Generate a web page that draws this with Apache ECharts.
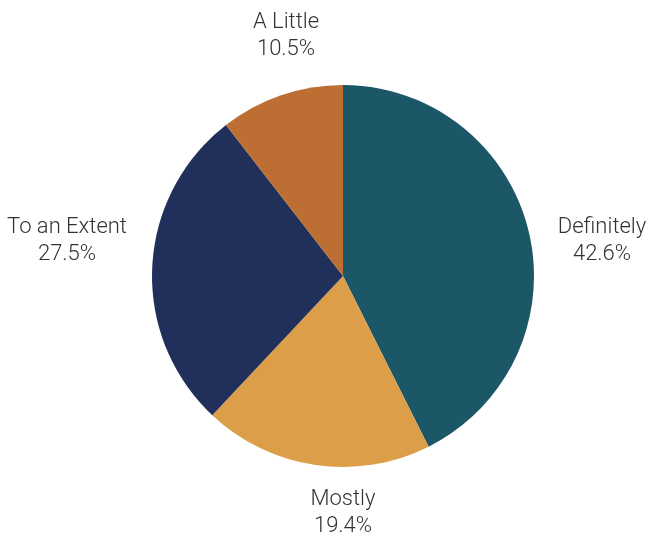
<!DOCTYPE html>
<html>
<head>
<meta charset="utf-8">
<script src="https://cdn.jsdelivr.net/npm/echarts@6/dist/echarts.min.js"></script>
<style>
  html, body { margin: 0; padding: 0; background: #ffffff; }
  #chart { width: 649px; height: 534px; }
</style>
</head>
<body>
<div id="chart"></div>
<script>
// Survey answers, in clockwise order from 12 o'clock
const categories = ['Definitely', 'Mostly', 'To an Extent', 'A Little'];
const shares = [42.6, 19.4, 27.5, 10.5];
const sliceColors = ['#1b5766', '#dc9e48', '#20305a', '#bd6f33'];

// Where each label block sits, relative to the pie centre (px)
const labelOffsets = [[259, -35], [0, 237], [-276, -35], [-57, -240]];

const CX = 343, CY = 276, R = 191;

const chart = echarts.init(document.getElementById('chart'), null, { renderer: 'canvas' });

chart.setOption({
  backgroundColor: '#ffffff',
  animation: false,
  series: [{
    type: 'pie',
    center: [CX, CY],
    radius: [0, R],
    startAngle: 90,
    clockwise: true,
    avoidLabelOverlap: false,
    itemStyle: { borderWidth: 0 },
    label: {
      show: true,
      position: 'outside',
      formatter: (p) => p.name + '\n' + p.value.toFixed(1) + '%',
      fontFamily: 'Roboto',
      fontWeight: 300,
      fontSize: 22,
      lineHeight: 27,
      color: '#333333',
      align: 'center'
    },
    labelLine: { show: false },
    labelLayout: (params) => {
      const off = labelOffsets[params.dataIndex];
      return {
        x: CX + off[0],
        y: CY + off[1],
        align: 'center',
        verticalAlign: 'middle'
      };
    },
    emphasis: { disabled: true },
    data: categories.map((name, i) => ({
      name: name,
      value: shares[i],
      itemStyle: { color: sliceColors[i] }
    }))
  }]
});
</script>
</body>
</html>
